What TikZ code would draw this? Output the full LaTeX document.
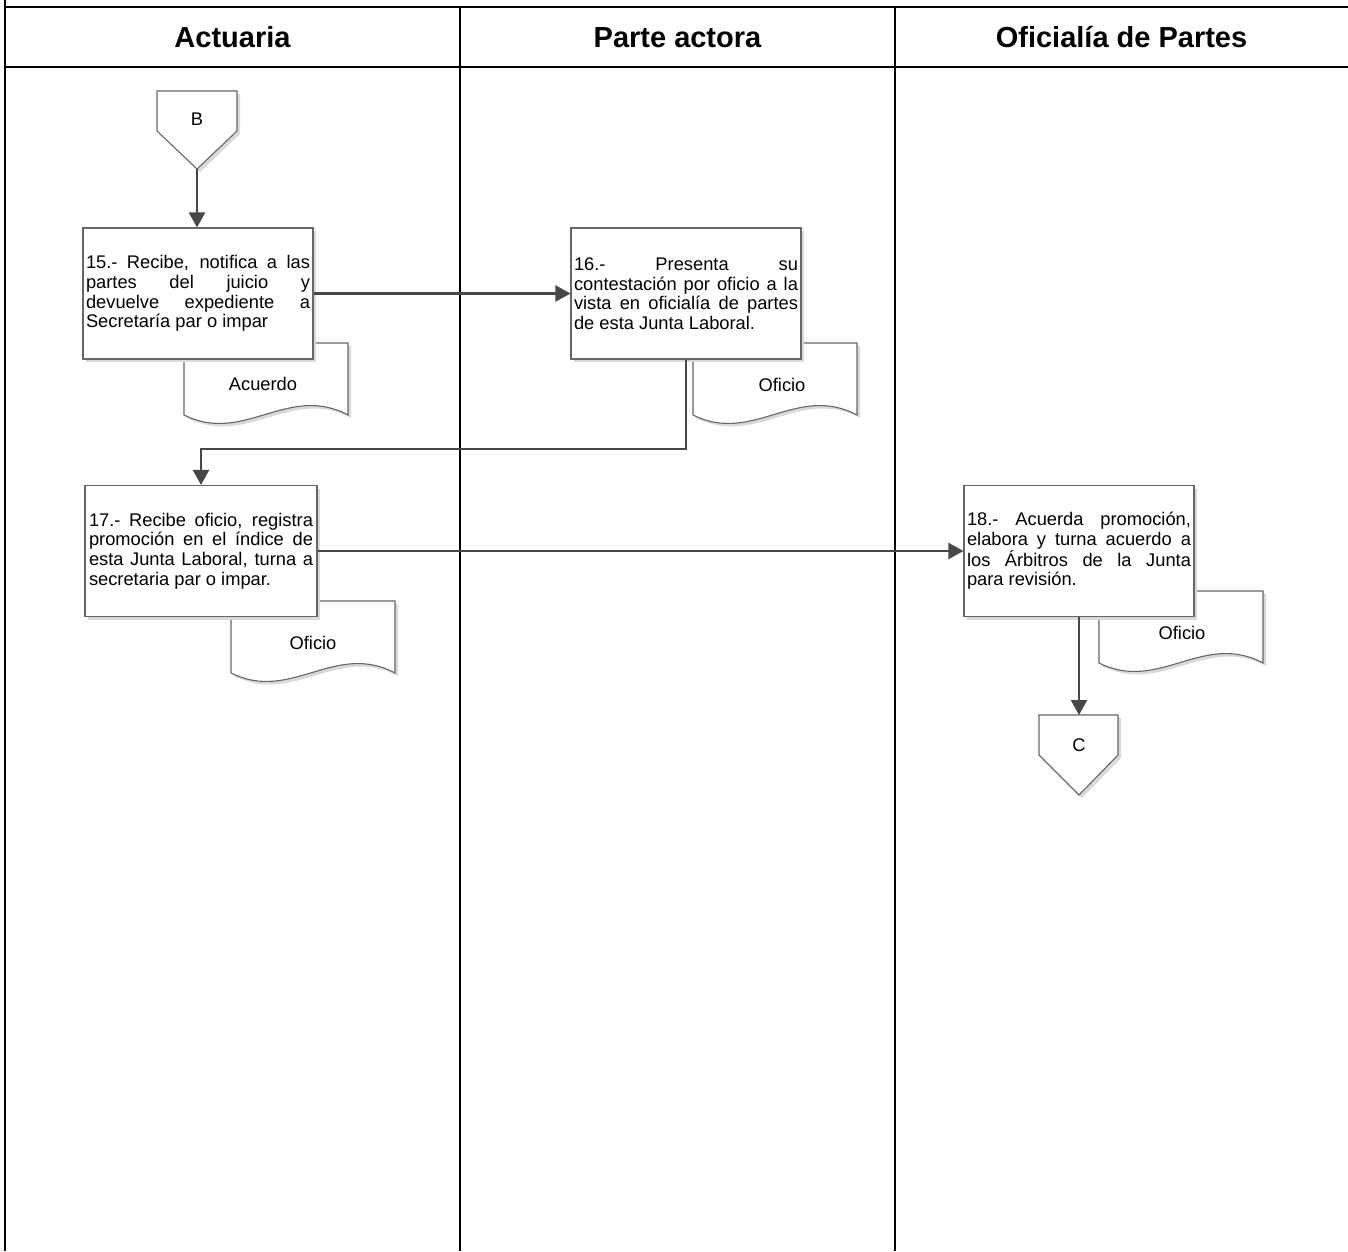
\documentclass[tikz,border=0pt]{standalone}
\usepackage{fontspec}
\setmainfont{Liberation Sans}
\usetikzlibrary{arrows.meta,shadows}
\newcommand\mydoc[2]{%
  \path[docline,shift={(#1,#2)}] (0,0) -- (164,0) -- (164,72)
    .. controls (104,40) and (60,102) .. (0,72) -- cycle;}
\begin{document}
\begin{tikzpicture}[x=1pt,y=-1pt,
  lane/.style={draw=black,line width=2.6pt},
  head/.style={font={\fontsize{29}{34}\selectfont\bfseries},anchor=base,inner sep=0pt},
  shad/.style={drop shadow={shadow xshift=3pt,shadow yshift=-3pt,fill=black!15,opacity=1}},
  proc/.style={draw=black!60,line width=1.1pt,fill=white,shad,minimum width=230pt,
    minimum height=131pt,text width=224pt,inner sep=0pt,align=justify,
    font={\fontsize{18.3}{19.6}\selectfont\tolerance=10000\hyphenpenalty=10000}},
  docline/.style={draw=black!60,line width=1.1pt,fill=white,shad},
  lbl/.style={font={\fontsize{18.3}{20}\selectfont},inner sep=0pt},
  arr/.style={draw=black!72,line width=2.3pt,-{Triangle[length=15pt,width=16pt]}},
]
\useasboundingbox (0,0) rectangle (1348,1251);

% swimlanes
\draw[lane,line width=2pt] (5,0) -- (5,1251);
\draw[lane] (5,7) -- (1348,7);
\draw[lane] (5,67) -- (1348,67);
\draw[lane] (460,7) -- (460,1251);
\draw[lane] (895,7) -- (895,1251);
\node[head] (h1) at (232.5,47) {Actuaria};
\node[head] (h2) at (677.5,47) {Parte actora};
\node[head] (h3) at (1121.5,47) {Oficialía de Partes};

% off-page connectors
\path[docline] (157,91) -- (237,91) -- (237,131) -- (197,169) -- (157,131) -- cycle;
\node[lbl] (B) at (197,119) {B};
\coordinate (Btip) at (197,169);
\path[docline] (1039,715) -- (1118,715) -- (1118,755) -- (1079,795) -- (1039,755) -- cycle;
\node[lbl] (C) at (1079,745) {C};
\coordinate (Ctop) at (1079,715);

% documents
\mydoc{184}{343}
\node[lbl] (d15) at (263,384) {Acuerdo};
\mydoc{693}{343}
\node[lbl] (d16) at (782,385) {Oficio};
\mydoc{231}{601}
\node[lbl] (d17) at (313,643) {Oficio};
\mydoc{1099}{591}
\node[lbl] (d18) at (1182,633) {Oficio};

% process boxes
\node[proc] (b15) at (198,293.5) {15.- Recibe, notifica a las\linebreak partes del juicio y\linebreak devuelve expediente a\linebreak Secretaría par o impar};
\node[proc] (b16) at (686,293.5) {16.- Presenta su\linebreak contestación por oficio a la\linebreak vista en oficialía de partes\linebreak de esta Junta Laboral.};
\node[proc,minimum width=232pt] (b17) at (201,551) {17.- Recibe oficio, registra\linebreak promoción en el índice de\linebreak esta Junta Laboral, turna a\linebreak secretaria par o impar.};
\node[proc] (b18) at (1079,551) {18.- Acuerda promoción,\linebreak elabora y turna acuerdo a\linebreak los Árbitros de la Junta\linebreak para revisión.};

% connectors
\coordinate (lvl) at (0,449);
\draw[arr] (Btip) -- (Btip |- b15.north);
\draw[arr] (b15.east) -- (b16.west);
\draw[arr] (b16.south) -- (b16.south |- lvl) -| (b17.north);
\draw[arr] (b17.east) -- (b18.west);
\draw[arr] (b18.south) -- (Ctop);
\end{tikzpicture}
\end{document}
